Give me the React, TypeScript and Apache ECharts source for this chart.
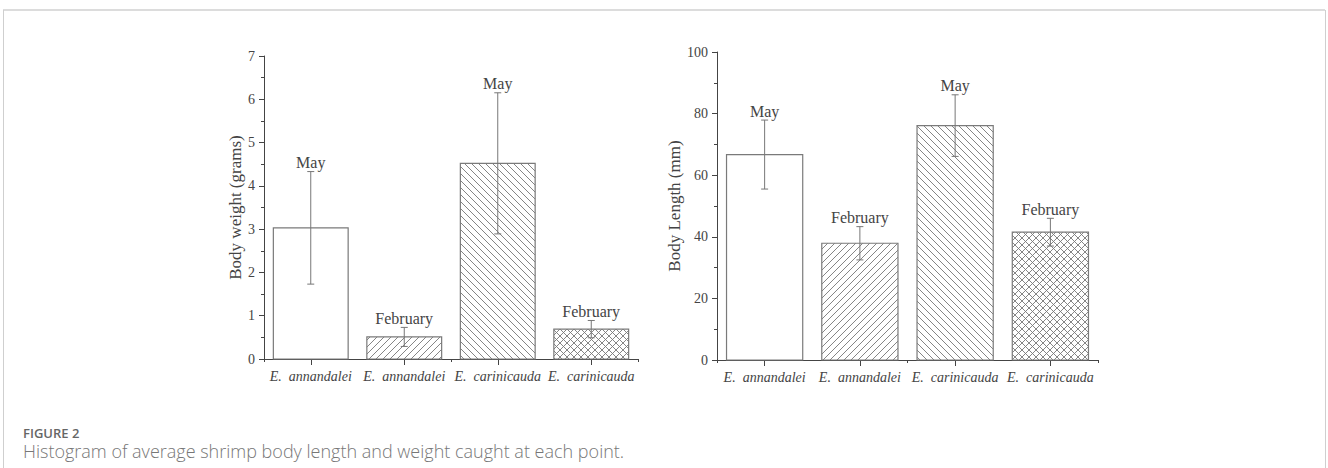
import React, { useEffect, useRef } from "react";
import * as echarts from "echarts";

const categories = ["E.  annandalei", "E.  annandalei", "E.  carinicauda", "E.  carinicauda"];
const months = ["May", "February", "May", "February"];
const patterns = ["none", "fwd", "back", "cross"];
const weightMean = [3.03, 0.51, 4.52, 0.69];
const weightErr = [1.3, 0.22, 1.63, 0.2];
const lengthMean = [66.7, 37.9, 76.1, 41.5];
const lengthErr = [11.2, 5.4, 10.0, 4.5];
const weightTicks = { min: 0, max: 7, interval: 1 };
const lengthTicks = { min: 0, max: 100, interval: 20 };

const SERIF = "'Liberation Serif', 'DejaVu Serif', serif";
const AXIS_COLOR = "#444";
const TEXT_COLOR = "#444";
const BAR_COLOR = "#7a7a7a";

function hatchLines(x0: number, y0: number, x1: number, y1: number, kind: string, step: number) {
  const segs: number[][] = [];
  const fwd = () => {
    const cStart = Math.ceil((x0 + y0) / step) * step;
    for (let c = cStart; c <= x1 + y1; c += step) {
      const xa = Math.max(x0, c - y1);
      const xb = Math.min(x1, c - y0);
      if (xb > xa) segs.push([xa, c - xa, xb, c - xb]);
    }
  };
  const back = () => {
    const cStart = Math.ceil((y0 - x1) / step) * step;
    for (let c = cStart; c <= y1 - x0; c += step) {
      const xa = Math.max(x0, y0 - c);
      const xb = Math.min(x1, y1 - c);
      if (xb > xa) segs.push([xa, xa + c, xb, xb + c]);
    }
  };
  if (kind === "fwd") fwd();
  if (kind === "back") back();
  if (kind === "cross") {
    fwd();
    back();
  }
  return segs;
}

function makeRenderItem(labels: string[], pats: string[]) {
  return (params: any, api: any) => {
    const idx = api.value(0);
    const val = api.value(1);
    const err = api.value(2);
    const base = api.coord([idx, 0]);
    const top = api.coord([idx, val]);
    const hi = api.coord([idx, val + err]);
    const lo = api.coord([idx, val - err]);
    const band = api.size([1, 0])[0];
    const w = band * 0.8;
    const x0 = base[0] - w / 2;
    const x1 = base[0] + w / 2;
    const y0 = top[1];
    const y1 = base[1];
    const kind = pats[params.dataIndex];
    const children: any[] = [
      {
        type: "rect",
        shape: { x: x0, y: y0, width: w, height: y1 - y0 },
        style: { fill: "#fff", stroke: "none" },
      },
    ];
    hatchLines(x0, y0, x1, y1, kind, 7).forEach((s) => {
      children.push({
        type: "line",
        shape: { x1: s[0], y1: s[1], x2: s[2], y2: s[3] },
        style: { stroke: "#777", lineWidth: 0.9 },
      });
    });
    children.push({
      type: "rect",
      shape: { x: x0, y: y0, width: w, height: y1 - y0 },
      style: { fill: "none", stroke: BAR_COLOR, lineWidth: 1.2 },
    });
    const cx = base[0];
    const cap = 3.5;
    children.push(
      {
        type: "line",
        shape: { x1: cx, y1: hi[1], x2: cx, y2: lo[1] },
        style: { stroke: "#777", lineWidth: 1 },
      },
      {
        type: "line",
        shape: { x1: cx - cap, y1: hi[1], x2: cx + cap, y2: hi[1] },
        style: { stroke: "#777", lineWidth: 1 },
      },
      {
        type: "line",
        shape: { x1: cx - cap, y1: lo[1], x2: cx + cap, y2: lo[1] },
        style: { stroke: "#777", lineWidth: 1 },
      },
      {
        type: "text",
        style: {
          x: cx,
          y: hi[1] - 1,
          text: labels[params.dataIndex],
          align: "center",
          verticalAlign: "bottom",
          font: `16px ${SERIF}`,
          fill: TEXT_COLOR,
        },
      }
    );
    return { type: "group", children };
  };
}

function xAxes(gridIndex: number) {
  return [
    {
      type: "category",
      gridIndex,
      data: categories,
      boundaryGap: true,
      axisLine: { show: true, lineStyle: { color: AXIS_COLOR, width: 1 } },
      axisTick: { show: true, alignWithLabel: true, length: 6, lineStyle: { color: AXIS_COLOR } },
      axisLabel: {
        show: true,
        interval: 0,
        margin: 10,
        fontFamily: SERIF,
        fontStyle: "italic",
        fontSize: 14,
        color: TEXT_COLOR,
      },
      splitLine: { show: false },
    },
    {
      type: "category",
      gridIndex,
      data: categories,
      boundaryGap: true,
      position: "bottom",
      axisLine: { show: false },
      axisTick: { show: true, alignWithLabel: false, length: 3, lineStyle: { color: AXIS_COLOR } },
      axisLabel: { show: false },
      splitLine: { show: false },
    },
  ];
}

function yAxis(gridIndex: number, t: any, name: string, nameGap: number) {
  return {
    type: "value",
    gridIndex,
    min: t.min,
    max: t.max,
    interval: t.interval,
    name,
    nameLocation: "middle",
    nameGap,
    nameRotate: 90,
    nameTextStyle: { fontFamily: SERIF, fontSize: 17, color: TEXT_COLOR },
    axisLine: { show: true, lineStyle: { color: AXIS_COLOR, width: 1 } },
    axisTick: { show: true, length: 5, lineStyle: { color: AXIS_COLOR } },
    minorTick: { show: true, splitNumber: 2, length: 3, lineStyle: { color: AXIS_COLOR } },
    axisLabel: { fontFamily: SERIF, fontSize: 14, color: TEXT_COLOR, margin: 9 },
    splitLine: { show: false },
  };
}

export default function App() {
  const ref = useRef<HTMLDivElement>(null);
  useEffect(() => {
    if (!ref.current) return;
    const chart = echarts.init(ref.current, undefined, { renderer: "svg" });
    const wData = weightMean.map((v, i) => [i, v, weightErr[i]]);
    const lData = lengthMean.map((v, i) => [i, v, lengthErr[i]]);
    chart.setOption({
      animation: false,
      backgroundColor: "#fff",
      grid: [
        { left: 264, top: 56, width: 374, height: 303 },
        { left: 717, top: 52, width: 381, height: 308 },
      ],
      xAxis: [...xAxes(0), ...xAxes(1)],
      yAxis: [
        yAxis(0, weightTicks, "Body weight (grams)", 18),
        yAxis(1, lengthTicks, "Body Length (mm)", 31),
      ],
      series: [
        {
          type: "custom",
          xAxisIndex: 0,
          yAxisIndex: 0,
          data: wData,
          renderItem: makeRenderItem(months, patterns),
          clip: false,
        },
        {
          type: "custom",
          xAxisIndex: 2,
          yAxisIndex: 1,
          data: lData,
          renderItem: makeRenderItem(months, patterns),
          clip: false,
        },
      ],
      graphic: [
        { type: "line", shape: { x1: 3, y1: 10, x2: 1325, y2: 10 }, style: { stroke: "#dcdcdc", lineWidth: 2 } },
        { type: "line", shape: { x1: 3.5, y1: 10, x2: 3.5, y2: 468 }, style: { stroke: "#cfcfcf", lineWidth: 1 } },
        { type: "line", shape: { x1: 1325.5, y1: 10, x2: 1325.5, y2: 468 }, style: { stroke: "#cfcfcf", lineWidth: 1 } },
        {
          type: "text",
          left: 23,
          top: 426,
          style: {
            text: "FIGURE 2",
            font: "600 13px 'Open Sans', 'Noto Sans', sans-serif",
            lineHeight: 13,
            fill: "#666",
          },
        },
        {
          type: "text",
          left: 23,
          top: 442,
          style: {
            text: "Histogram of average shrimp body length and weight caught at each point.",
            font: "300 18px 'Open Sans', 'Noto Sans', sans-serif",
            lineHeight: 18,
            fill: "#777",
          },
        },
      ],
    });
    return () => chart.dispose();
  }, []);
  return (
    <div
      ref={ref}
      style={{ position: "fixed", left: 0, top: 0, width: 1328, height: 468, background: "#fff" }}
    />
  );
}
